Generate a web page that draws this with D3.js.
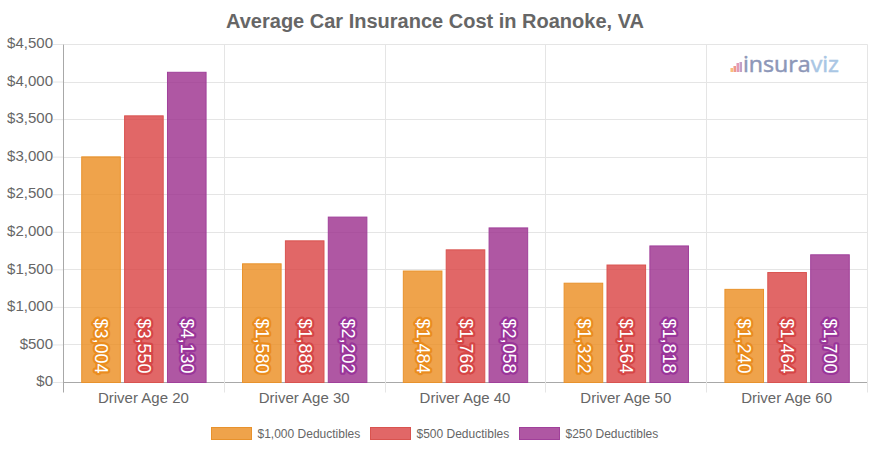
<!DOCTYPE html>
<html>
<head>
<meta charset="utf-8">
<script src="https://cdn.jsdelivr.net/npm/d3@7/dist/d3.min.js"></script>
<style>
html,body{margin:0;padding:0;background:#fff;}
svg{display:block;font-family:"Liberation Sans",Arial,sans-serif;}
</style>
</head>
<body>
<svg id="chart" width="870" height="450"></svg>
<script>
const categories = ["Driver Age 20","Driver Age 30","Driver Age 40","Driver Age 50","Driver Age 60"];
const seriesNames = ["$1,000 Deductibles","$500 Deductibles","$250 Deductibles"];
const deductible1000 = [3004,1580,1484,1322,1240];
const deductible500 = [3550,1886,1766,1564,1464];
const deductible250 = [4130,2202,2058,1818,1700];
const seriesValues = [deductible1000,deductible500,deductible250];
const yTicks = [0,500,1000,1500,2000,2500,3000,3500,4000,4500];
const fills = ["rgba(235,140,30,0.8)","rgba(217,65,65,0.8)","rgba(155,45,140,0.8)"];
const strokes = ["#e8922c","#d9534f","#a0409a"];
const halos = ["#ea8c1e","#d64545","#9a359a"];

const svg = d3.select("#chart");
const L=63,R=867,T=44,B=382;
const y = d3.scaleLinear().domain([0,4500]).range([B,T]);
const x0 = d3.scaleBand().domain(categories).range([L,R]);
const inner = x0.bandwidth()*0.8;
const x2 = d3.scaleBand().domain(d3.range(3)).range([x0.bandwidth()*0.1,x0.bandwidth()*0.1+inner]);
const barW = x2.bandwidth()*0.9;
const fmt = d3.format("$,");
const gridCol = "#e5e5e5";

// title
svg.append("text").attr("x",435).attr("y",28).attr("text-anchor","middle")
  .attr("font-size",20).attr("font-weight","bold").attr("fill","#666").text("Average Car Insurance Cost in Roanoke, VA");

// y axis + grid
const gy = svg.append("g").attr("transform",`translate(${L},0)`)
  .call(d3.axisLeft(y).tickValues(yTicks).tickFormat(fmt).tickSize(10).tickPadding(0));
gy.select(".domain").remove();
gy.selectAll(".tick line").attr("stroke",gridCol);
gy.selectAll(".tick text").attr("font-size",15).attr("font-family",'"Liberation Sans",Arial,sans-serif').attr("fill","#666").attr("x",-10).attr("dy","0.25em");
const grid = svg.append("g").attr("transform","translate(0.5,0.5)");
grid.append("g").selectAll("line").data(yTicks).join("line")
  .attr("x1",L).attr("x2",R).attr("y1",d=>Math.round(y(d))).attr("y2",d=>Math.round(y(d)))
  .attr("stroke",d=>d===0?"#a8a8a8":gridCol);

// x grid
const xEdges = categories.map(c=>Math.round(x0(c))).concat([R]);
grid.append("g").selectAll("line").data(xEdges).join("line")
  .attr("x1",d=>d).attr("x2",d=>d).attr("y1",T).attr("y2",B+10)
  .attr("stroke",(d,i)=>i===0?"#a8a8a8":gridCol);

// x axis labels
const gx = svg.append("g").attr("transform",`translate(0,${B})`)
  .call(d3.axisBottom(x0).tickSize(0).tickPadding(10));
gx.select(".domain").remove();
gx.selectAll(".tick text").attr("font-size",15).attr("font-family",'"Liberation Sans",Arial,sans-serif').attr("fill","#666");

// logo
const logo = svg.append("g").attr("transform","translate(730,72)");
const logoBars = [4,6,9,10];
const logoCols = ["#f9c07b","#f09a8a","#e39ab5","#c3a0c8"];
const logoX = d3.scaleBand().domain(d3.range(4)).range([0,12.5]).padding(0.15);
logo.selectAll("rect").data(logoBars).join("rect")
  .attr("x",(d,i)=>logoX(i)).attr("y",d=>-d).attr("width",logoX.bandwidth()).attr("height",d=>d)
  .attr("fill",(d,i)=>logoCols[i]);
const logoText = logo.append("text").attr("x",13).attr("y",0).attr("font-size",22.5)
  .attr("font-family",'"Open Sans",sans-serif').attr("font-weight",400).attr("textLength",96).attr("lengthAdjust","spacingAndGlyphs")
  .attr("stroke-width",0.5);
logoText.append("tspan").attr("fill","#8d97b8").attr("stroke","#8d97b8").text("insura");
logoText.append("tspan").attr("fill","#a9c6e4").attr("stroke","#a9c6e4").text("viz");

// bars
const groups = svg.append("g").attr("transform","translate(0.5,0.5)").selectAll("g").data(seriesValues).join("g");
groups.each(function(vals,s){
  const g = d3.select(this);
  const cx = c=>x0(c)+x2(s)+x2.bandwidth()/2;
  g.selectAll("rect").data(vals).join("rect")
    .attr("x",(d,i)=>cx(categories[i])-barW/2)
    .attr("y",d=>y(d))
    .attr("width",barW)
    .attr("height",d=>y(0)-y(d))
    .attr("fill",fills[s])
    .attr("stroke",strokes[s]).attr("stroke-width",1);
  g.selectAll("text").data(vals).join("text")
    .attr("transform",(d,i)=>`translate(${cx(categories[i])+0.5},345.5) rotate(90)`)
    .attr("text-anchor","middle").attr("dy","0.35em")
    .attr("font-size",18).attr("fill","#fff")
    .attr("stroke",halos[s]).attr("stroke-width",4.5).attr("stroke-linejoin","round")
    .attr("paint-order","stroke")
    .text(d=>fmt(d));
});

// legend
const legendX = [211,370,519];
const legend = svg.append("g").selectAll("g").data(seriesNames).join("g")
  .attr("transform",(d,i)=>`translate(${legendX[i]},427)`);
legend.append("rect").attr("x",0.5).attr("y",0.5).attr("width",40).attr("height",12)
  .attr("fill",(d,i)=>fills[i]).attr("stroke",(d,i)=>strokes[i]);
legend.append("text").attr("x",46.5).attr("y",10.5).attr("font-size",12).attr("fill","#666").text(d=>d);
</script>
</body>
</html>
